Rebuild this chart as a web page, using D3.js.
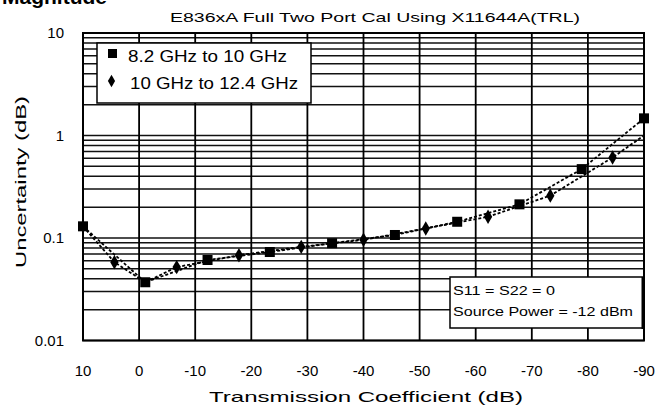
<!DOCTYPE html>
<html><head><meta charset="utf-8">
<script src="https://cdn.jsdelivr.net/npm/d3@7"></script>
<style>body{margin:0;background:#fff}svg{display:block}text{font-family:"Liberation Sans",Arial,sans-serif;fill:#000}</style>
</head><body><svg id="c" width="658" height="410"></svg>
<script>
const xTicks = [10, 0, -10, -20, -30, -40, -50, -60, -70, -80, -90];
const yTicks = [0.01, 0.1, 1, 10];
const yTickLabels = ["0.01", "0.1", "1", "10"];
const series1X = [10, -1.1, -12.2, -23.3, -34.4, -45.6, -56.7, -67.8, -78.9, -90];
const series1Y = [0.13, 0.037, 0.061, 0.073, 0.089, 0.107, 0.144, 0.213, 0.47, 1.47];
const series2X = [10, 4.4, -1.1, -6.7, -17.8, -28.9, -40, -51.1, -62.2, -73.3, -84.4, -90];
const series2Y = [0.13, 0.058, 0.037, 0.052, 0.068, 0.082, 0.096, 0.124, 0.161, 0.259, 0.61, 1.0];
const series2Marked = [false, true, false, true, true, true, true, true, true, true, true, false];
const legendLabels = ["8.2 GHz to 10 GHz", "10 GHz to 12.4 GHz"];
const noteLines = ["S11 = S22 = 0", "Source Power = -12 dBm"];
const chartTitle = "E836xA Full Two Port Cal Using X11644A(TRL)";
const xTitle = "Transmission Coefficient (dB)";
const yTitle = "Uncertainty (dB)";
const pageTitle = "Magnitude";

const svg = d3.select("#c");
const L = 83, R = 644, T = 33, B = 340.5;
const x = d3.scaleLinear().domain([10, -90]).range([L, R]);
const y = d3.scaleLog().domain([0.01, 10]).range([B, T]);

// page heading (cut off at top, as in the reference)
svg.append("text").attr("x", 2).attr("y", 4).attr("font-size", 21).attr("font-weight", "bold").text(pageTitle);
// title
svg.append("text").attr("x", 170).attr("y", 22).attr("font-size", 13.5)
  .attr("textLength", 410).attr("lengthAdjust", "spacingAndGlyphs").text(chartTitle);

const g = svg.append("g");
// horizontal grid (log minor ticks)
g.selectAll("line.h").data(y.ticks()).join("line")
  .attr("x1", L).attr("x2", R).attr("y1", d => y(d)).attr("y2", d => y(d))
  .attr("stroke", "#111").attr("stroke-width", 1.5);
// vertical grid
g.selectAll("line.v").data(xTicks).join("line")
  .attr("x1", d => x(d)).attr("x2", d => x(d)).attr("y1", T).attr("y2", B)
  .attr("stroke", "#000").attr("stroke-width", 1.8);
g.append("rect").attr("x", L).attr("y", T).attr("width", R - L).attr("height", B - T)
  .attr("fill", "none").attr("stroke", "#000").attr("stroke-width", 2);

// tick labels
svg.selectAll("text.yt").data(yTicks).join("text").attr("class", "yt")
  .attr("x", 64).attr("y", d => y(d) + 5).attr("text-anchor", "end").attr("font-size", 15)
  .text((d, i) => yTickLabels[i]);
svg.selectAll("text.xt").data(xTicks).join("text").attr("class", "xt")
  .attr("x", d => x(d)).attr("y", 376).attr("text-anchor", "middle").attr("font-size", 15)
  .text(d => d);
// axis titles
svg.append("text").attr("x", 209).attr("y", 402).attr("font-size", 15)
  .attr("textLength", 314).attr("lengthAdjust", "spacingAndGlyphs").text(xTitle);
svg.append("text").attr("transform", "translate(26,268) rotate(-90)").attr("font-size", 15)
  .attr("textLength", 172).attr("lengthAdjust", "spacingAndGlyphs").text(yTitle);

// lines
const s1 = series1X.map((v, i) => [v, series1Y[i]]);
const s2 = series2X.map((v, i) => [v, series2Y[i], series2Marked[i]]);
const line = d3.line().x(d => x(d[0])).y(d => y(d[1]));
svg.append("path").attr("d", line(s1)).attr("fill", "none").attr("stroke", "#000")
  .attr("stroke-width", 1.8).attr("stroke-dasharray", "3,2");
svg.append("path").attr("d", line(s2)).attr("fill", "none").attr("stroke", "#000")
  .attr("stroke-width", 1.8).attr("stroke-dasharray", "3,2");
// markers
svg.selectAll("rect.m1").data(s1).join("rect")
  .attr("x", d => x(d[0]) - 5).attr("y", d => y(d[1]) - 5).attr("width", 10).attr("height", 10).attr("fill", "#000");
svg.selectAll("path.m2").data(s2.filter(d => d[2])).join("path")
  .attr("transform", d => `translate(${x(d[0])},${y(d[1])})`)
  .attr("d", d3.symbol(d3.symbolDiamond, 60)).attr("fill", "#000");

// legend
svg.append("rect").attr("x", 97).attr("y", 43).attr("width", 214).attr("height", 60)
  .attr("fill", "#fff").attr("stroke", "#000").attr("stroke-width", 1.5);
svg.append("rect").attr("x", 108).attr("y", 49).attr("width", 9).attr("height", 9).attr("fill", "#000");
svg.append("path").attr("transform", "translate(111.5,81)").attr("d", d3.symbol(d3.symbolDiamond, 45)).attr("fill", "#000");
svg.append("text").attr("x", 128).attr("y", 62).attr("font-size", 16)
  .attr("textLength", 159).attr("lengthAdjust", "spacingAndGlyphs").text(legendLabels[0]);
svg.append("text").attr("x", 130).attr("y", 89).attr("font-size", 16)
  .attr("textLength", 168).attr("lengthAdjust", "spacingAndGlyphs").text(legendLabels[1]);

// note box
svg.append("rect").attr("x", 450).attr("y", 277).attr("width", 193).attr("height", 51)
  .attr("fill", "#fff").attr("stroke", "#000").attr("stroke-width", 1.5);
svg.append("line").attr("x1", 643).attr("x2", 643).attr("y1", 277).attr("y2", 329).attr("stroke", "#000").attr("stroke-width", 3);
svg.append("text").attr("x", 453).attr("y", 295).attr("font-size", 12.5)
  .attr("textLength", 102).attr("lengthAdjust", "spacingAndGlyphs").text(noteLines[0]);
svg.append("text").attr("x", 453).attr("y", 316).attr("font-size", 12.5)
  .attr("textLength", 180).attr("lengthAdjust", "spacingAndGlyphs").text(noteLines[1]);
</script></body></html>
